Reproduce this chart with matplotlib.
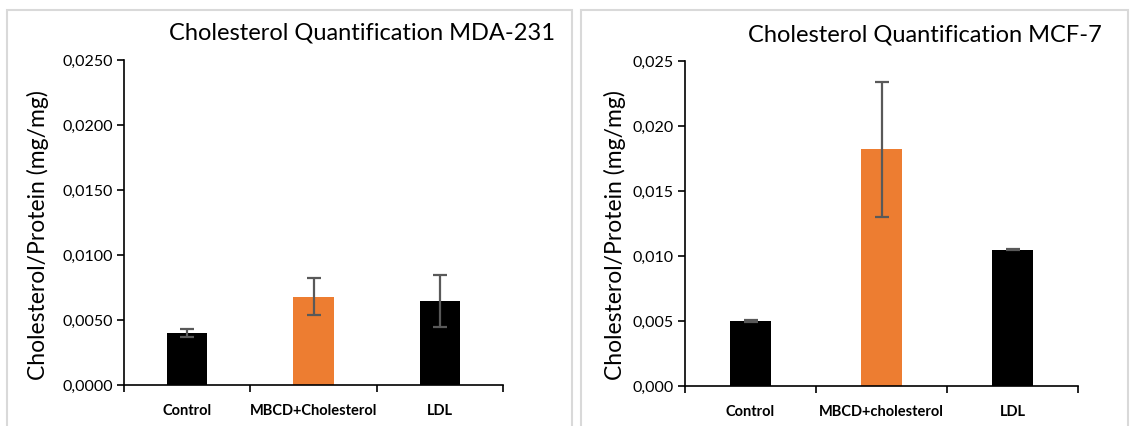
import matplotlib.pyplot as plt
from matplotlib.patches import Rectangle
from matplotlib.ticker import FuncFormatter, FixedLocator

# Data -------------------------------------------------------------------------
cats_mda = ['Control', 'MBCD+Cholesterol', 'LDL']
vals_mda = [0.0040, 0.0068, 0.0065]
err_mda = [0.0003, 0.0014, 0.0020]

cats_mcf = ['Control', 'MBCD+cholesterol', 'LDL']
vals_mcf = [0.0050, 0.0182, 0.0105]
err_mcf = [0.0001, 0.0052, 0.00005]

bar_colors = ['#000000', '#ED7D31', '#000000']
font = 'Lato'

fig = plt.figure(figsize=(11.33, 4.26), dpi=100)
W, H = 1133, 426

# panel frames (px -> fig fraction)
for x0, x1 in [(7, 572), (581, 1128)]:
    fig.patches.append(Rectangle((x0 / W, -0.1), (x1 - x0) / W, (H - 10) / H + 0.1,
                                 transform=fig.transFigure, fill=False,
                                 edgecolor='#d9d9d9', linewidth=1.5))


def panel(rect, cats, vals, errs, title, title_xy, ylab_x, decimals):
    ax = fig.add_axes(rect)
    xs = list(range(len(cats)))
    ax.bar(xs, vals, width=0.32, color=bar_colors, zorder=2)
    ax.errorbar(xs, vals, yerr=errs, fmt='none', ecolor='#595959',
                elinewidth=1.6, capsize=5, capthick=1.6, zorder=3)
    ax.set_xlim(-0.5, 2.5)
    ax.set_ylim(0, 0.025)
    ax.set_yticks([0, 0.005, 0.010, 0.015, 0.020, 0.025])
    ax.yaxis.set_major_formatter(
        FuncFormatter(lambda v, p: ('{:.%df}' % decimals).format(v).replace('.', ',')))
    # minor ticks at category boundaries, labels on majors without marks
    ax.xaxis.set_major_locator(FixedLocator(xs))
    ax.set_xticklabels(cats, fontweight='bold', fontsize=10.5, family=font)
    ax.xaxis.set_minor_locator(FixedLocator([-0.5, 0.5, 1.5, 2.5]))
    ax.tick_params(axis='x', which='major', length=0, pad=14)
    ax.tick_params(axis='x', which='minor', length=5, width=1.2, direction='out')
    ax.tick_params(axis='y', length=5, width=1.2, direction='out', labelsize=11.5, pad=3)
    for lab in ax.get_yticklabels():
        lab.set_family(font)
    for s in ['top', 'right']:
        ax.spines[s].set_visible(False)
    for s in ['left', 'bottom']:
        ax.spines[s].set_linewidth(1.2)
    fig.text(title_xy[0] / W, 1 - title_xy[1] / H, title, ha='center', va='center',
             fontsize=17, family=font)
    fig.text(ylab_x / W, 1 - 235 / H, 'Cholesterol/Protein (mg/mg)', rotation=90,
             ha='center', va='center', fontsize=16.5, family=font)
    return ax


panel([124 / W, 41 / H, 379 / W, 325 / H], cats_mda, vals_mda, err_mda,
      'Cholesterol Quantification MDA-231', (362, 33), 38, 4)
panel([685 / W, 40 / H, 393 / W, 325 / H], cats_mcf, vals_mcf, err_mcf,
      'Cholesterol Quantification MCF-7', (925, 35), 615, 3)

plt.savefig('out.png', dpi=100)
